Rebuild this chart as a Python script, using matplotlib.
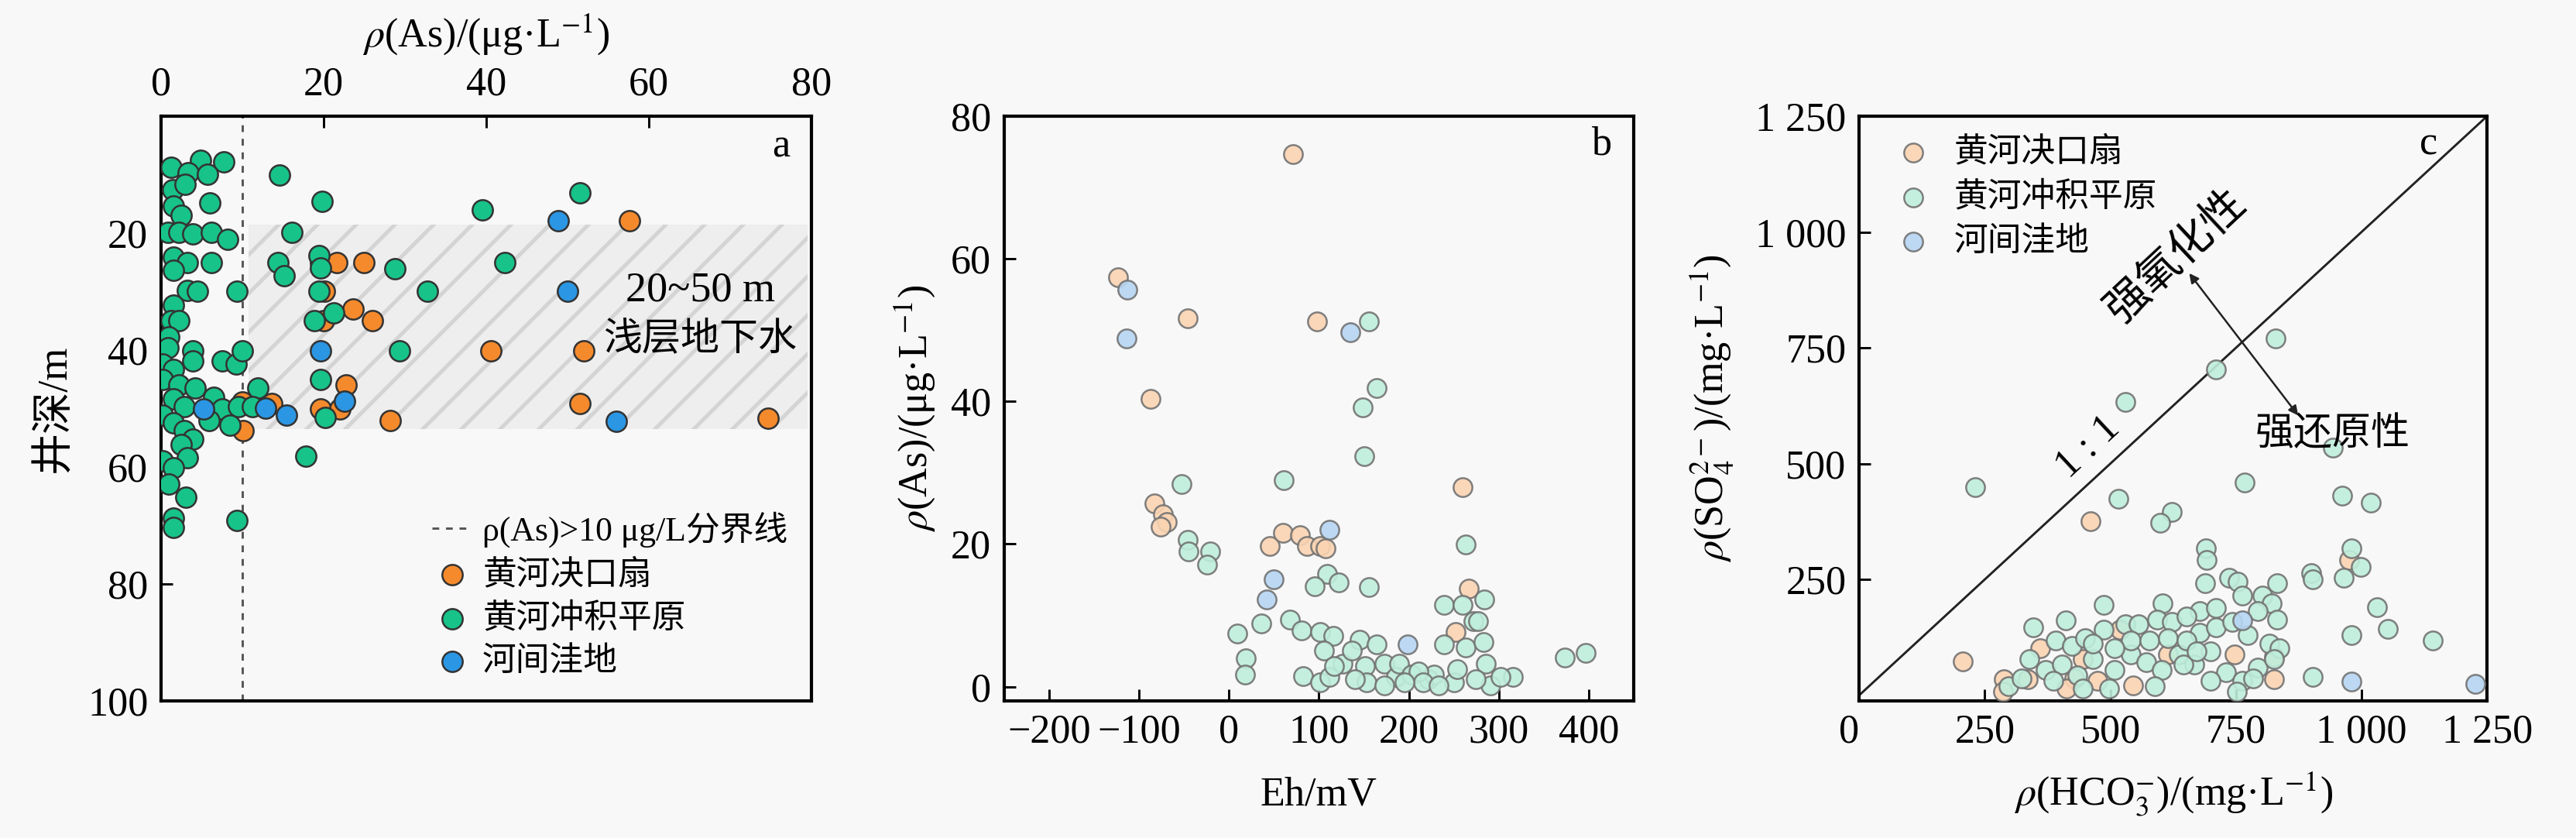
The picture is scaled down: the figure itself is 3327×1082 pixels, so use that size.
import numpy as np
import matplotlib
matplotlib.use("Agg")
import matplotlib.pyplot as plt

plt.rcParams['font.family'] = ['Liberation Serif', 'Noto Sans CJK SC', 'DejaVu Sans']
plt.rcParams['mathtext.fontset'] = 'stix'
plt.rcParams['hatch.linewidth'] = 1.2

# ---- panel a: As vs well depth ----
a_fan_as = [57.6, 19.6, 21.6, 25.0, 20.1, 23.6, 20.0, 26.0, 40.6, 52.0, 22.8, 19.6, 22.0, 28.2, 51.5, 74.7, 10.1, 10.0, 13.6]
a_fan_depth = [17.9, 25.0, 25.0, 25.0, 30.0, 33.0, 35.0, 35.0, 40.1, 40.1, 46.0, 50.1, 50.1, 52.0, 49.2, 51.7, 53.8, 48.9, 49.2]
a_plain_as = [1.2, 4.9, 7.7, 3.3, 5.7, 1.4, 3.0, 6.0, 1.5, 2.5, 0.9, 2.2, 3.9, 6.2, 8.2, 1.5, 3.2, 1.5, 6.2,
              3.2, 4.5, 9.3, 1.5, 1.2, 2.2, 1.0, 3.9, 0.9, 0.2, 1.5, 3.9, 7.5, 9.2, 10.0, 0.2, 2.2, 4.2, 1.5,
              6.5, 2.9, 7.5, 9.5, 0.2, 5.9, 8.5, 1.5, 2.9, 3.9, 2.5, 3.2, 0.2, 1.5, 1.0, 3.1, 1.5, 1.5, 9.3,
              11.9, 11.2, 14.6, 19.8, 16.1, 19.4, 19.6, 14.4, 15.1, 19.4, 18.9, 21.2, 19.6, 20.2, 17.8,
              28.8, 32.8, 29.3, 39.5, 42.3, 51.5]
a_plain_depth = [8.8, 7.6, 7.8, 9.7, 9.9, 12.6, 11.7, 14.9, 15.4, 17.0, 19.9, 19.9, 20.1, 19.9, 21.0, 24.1, 25.0, 26.3, 25.0,
                 29.8, 30.0, 30.0, 32.3, 35.0, 35.0, 37.8, 40.1, 39.6, 42.4, 43.3, 41.9, 41.9, 42.4, 40.1, 45.1, 46.0, 46.5, 48.3,
                 48.1, 49.7, 50.1, 49.7, 51.1, 52.0, 52.9, 52.4, 53.8, 55.2, 56.1, 58.4, 59.0, 60.2, 62.9, 65.2, 68.7, 70.3, 69.1,
                 46.5, 49.7, 10.1, 14.6, 19.9, 23.9, 25.9, 25.0, 27.3, 30.0, 35.0, 33.7, 45.1, 51.5, 58.2,
                 26.1, 30.0, 40.1, 16.0, 25.0, 13.1]
a_low_as = [48.9, 50.0, 19.6, 22.6, 12.9, 15.4, 56.0, 5.2]
a_low_depth = [17.9, 30.0, 40.1, 48.8, 49.9, 51.1, 52.2, 50.1]

# ---- panel b: Eh vs As ----
b_fan_eh = [71, -123, -46, 98, -87, -83, -73, -69, -76, 45, 60, 79, 87, 101, 107, 260, 267, 252]
b_fan_as = [74.7, 57.4, 51.7, 51.2, 40.4, 25.7, 24.2, 23.1, 22.4, 19.7, 21.6, 21.2, 19.7, 19.7, 19.4, 28.0, 13.7, 7.7]
b_plain_eh = [156, 164, 149, 150, -53, 61, -46, -45, -21, -24, 263, 109, 122, 95, 156, 239, 260, 284, 36, 68, 81, 9,
              101, 116, 19, 18, 82, 101, 106, 112, 126, 145, 151, 153, 164, 173, 186, 189, 203, 222, 228, 239, 250,
              263, 272, 283, 286, 291, 316, 302, 373, 397, 277, 117, 140, 211, 216, 254, 274, 233, 173, 195, 137]
b_plain_as = [51.2, 41.9, 39.2, 32.3, 28.4, 28.9, 20.6, 19.0, 19.0, 17.1, 19.9, 15.8, 14.6, 14.1, 14.0, 11.5, 11.5, 12.2,
              8.9, 9.4, 7.9, 7.4, 7.7, 7.1, 4.0, 1.7, 1.5, 0.6, 5.1, 1.4, 3.2, 6.6, 2.9, 0.6, 5.9, 3.2, 1.4, 3.2, 1.7,
              1.0, 1.7, 5.9, 0.6, 5.5, 9.2, 6.2, 3.2, 0.2, 1.4, 1.4, 4.1, 4.7, 9.2, 2.9, 1.0, 2.1, 0.6, 2.5, 1.0, 0.2,
              0.2, 0.6, 5.1]
b_low_eh = [-113, -114, 135, 112, 50, 42, 199]
b_low_as = [55.7, 48.8, 49.7, 22.0, 15.0, 12.2, 5.9]

# ---- panel c: HCO3 vs SO4 ----
c_fan_hco3 = [461, 207, 288, 336, 360, 445, 429, 475, 519, 546, 614, 747, 826, 826, 975, 413, 286]
c_fan_so4 = [376, 74, 34, 34, 101, 78, 37, 31, 141, 22, 89, 89, 34, 83, 292, 14, 8]
c_plain_hco3 = [829, 710, 530, 231, 768, 516, 962, 1019, 943, 623, 599, 691, 692, 689, 737, 753, 832, 900, 903,
                980, 964, 998, 487, 604, 411, 347, 1031, 1052, 980, 1142, 903, 803, 821, 763, 678, 710, 832,
                392, 424, 450, 487, 530, 556, 593, 623, 651, 678, 710, 742, 773, 794, 816, 837, 339, 371, 403,
                434, 466, 508, 540, 572, 602, 636, 667, 699, 731, 763, 794, 826, 297, 323, 386, 445, 498, 588,
                646, 699, 752, 784, 540, 577, 614, 508, 466, 651, 672]
c_plain_so4 = [770, 703, 633, 450, 459, 425, 431, 416, 535, 396, 373, 318, 292, 242, 253, 245, 242, 263, 251,
               318, 253, 277, 196, 199, 162, 147, 190, 144, 130, 118, 39, 216, 199, 216, 182, 188, 164,
               118, 106, 124, 141, 153, 153, 164, 159, 170, 135, 147, 159, 130, 182, 112, 101, 78, 54, 66,
               43, 78, 54, 89, 72, 54, 89, 66, 95, 49, 31, 60, 78, 20, 37, 31, 14, 14, 20,
               66, 31, 8, 37, 118, 118, 124, 101, 112, 118, 95]
c_low_hco3 = [763, 980, 1226]
c_low_so4 = [161, 29, 25]

groups = ['黄河决口扇', '黄河冲积平原', '河间洼地']
solid = ['#f58a2c', '#17c389', '#2b96e3']
pale = ['#fbd4b2', '#bfeedc', '#b6d5f3']
bg = '#f8f8f8'

fig = plt.figure(figsize=(3327 / 300, 1082 / 300), dpi=300, facecolor=bg)
axa = fig.add_axes([0.0625, 0.1636, 0.2525, 0.6978])
axb = fig.add_axes([0.3898, 0.1636, 0.2444, 0.6978])
axc = fig.add_axes([0.7217, 0.1636, 0.2438, 0.6978])

for ax in (axa, axb, axc):
    ax.set_facecolor(bg)
    for sp in ax.spines.values():
        sp.set_linewidth(1.0)
    ax.tick_params(direction='in', length=3.5, width=0.7, labelsize=12.5, pad=4)

# panel a
axa.fill_between([10.8, 79.5], 18.5, 53.5, facecolor='#eeeeee', hatch='//', edgecolor='#d4d4d4', linewidth=0, zorder=1)
axa.axvline(10, color='#555555', linestyle=(0, (3, 3)), linewidth=0.7, zorder=2,
            label='ρ(As)>10 μg/L分界线')
for xs, ys, lab, col in zip([a_fan_as, a_plain_as, a_low_as], [a_fan_depth, a_plain_depth, a_low_depth], groups, solid):
    axa.scatter(xs, ys, s=40, color=col, edgecolor='#333333', linewidth=0.6, label=lab, zorder=3)
axa.set_xlim(0, 80)
axa.set_ylim(100, 0)
axa.xaxis.tick_top()
axa.xaxis.set_label_position('top')
axa.set_xticks([0, 20, 40, 60, 80])
axa.set_yticks([20, 40, 60, 80, 100])
axa.set_xlabel(r'$\rho$(As)/(μg·L$^{-1}$)', fontsize=12.5, labelpad=6)
axa.set_ylabel('井深/m', fontsize=13, labelpad=4)
axa.text(76.3, 5.3, 'a', fontsize=12.5, ha='center', va='center')
axa.text(66.3, 29.8, '20~50 m', fontsize=13, ha='center', va='center')
axa.text(66.3, 38.2, '浅层地下水', fontsize=12, ha='center', va='center')
axa.legend(loc='lower right', frameon=False, fontsize=10.5, handlelength=1.2, handletextpad=0.3,
           labelspacing=0.35, borderaxespad=0.3, markerscale=1.0)

# panel b
for xs, ys, col in zip([b_fan_eh, b_plain_eh, b_low_eh], [b_fan_as, b_plain_as, b_low_as], pale):
    axb.scatter(xs, ys, s=34, color=col, alpha=0.9, edgecolor=(0.45, 0.45, 0.45, 0.6), linewidth=0.6, zorder=3)
axb.set_xlim(-250, 450)
axb.set_ylim(-2, 80)
axb.set_xticks([-200, -100, 0, 100, 200, 300, 400])
axb.set_yticks([0, 20, 40, 60, 80])
axb.set_xlabel('Eh/mV', fontsize=12.5, labelpad=8)
axb.set_ylabel(r'$\rho$(As)/(μg·L$^{-1}$)', fontsize=12.5, labelpad=4)
axb.text(415, 76, 'b', fontsize=12.5, ha='center', va='center')

# panel c
for xs, ys, lab, col in zip([c_fan_hco3, c_plain_hco3, c_low_hco3], [c_fan_so4, c_plain_so4, c_low_so4], groups, pale):
    axc.scatter(xs, ys, s=34, color=col, alpha=0.9, edgecolor=(0.45, 0.45, 0.45, 0.6), linewidth=0.6,
                label=lab, zorder=3)
axc.plot([0, 1250], [0, 1250], color='#222222', linewidth=0.7, zorder=2)
axc.set_xlim(0, 1250)
axc.set_ylim(-12, 1250)
axc.set_xticks([0, 250, 500, 750, 1000, 1250])
axc.set_xticklabels(['0', '250', '500', '750', '1 000', '1 250'])
axc.get_xticklabels()[0].set_horizontalalignment('right')
axc.set_yticks([250, 500, 750, 1000, 1250])
axc.set_yticklabels(['250', '500', '750', '1 000', '1 250'])
axc.set_xlabel(r'$\rho$(HCO$_3^{-}$)/(mg·L$^{-1}$)', fontsize=12.5, labelpad=6)
axc.set_ylabel(r'$\rho$(SO$_4^{2-}$)/(mg·L$^{-1}$)', fontsize=12.5, labelpad=6)
axc.text(1133, 1189, 'c', fontsize=12.5, ha='center', va='center')
axc.text(632, 945, '强氧化性', fontsize=13.5, rotation=43, ha='center', va='center', rotation_mode='anchor')
axc.text(943, 561, '强还原性', fontsize=12, ha='center', va='center')
axc.text(455, 535, '1 : 1', fontsize=12.5, rotation=43, ha='center', va='center', rotation_mode='anchor')
axc.annotate('', xy=(874, 604), xytext=(657, 911),
             arrowprops=dict(arrowstyle='<|-|>', color='#222222', lw=0.6, mutation_scale=6, shrinkA=0, shrinkB=0))
axc.legend(loc='upper left', frameon=False, fontsize=10.5, handletextpad=0.2, labelspacing=0.4,
           borderaxespad=0.3, borderpad=0.3)

fig.savefig('out.png', dpi=300, facecolor=bg)
